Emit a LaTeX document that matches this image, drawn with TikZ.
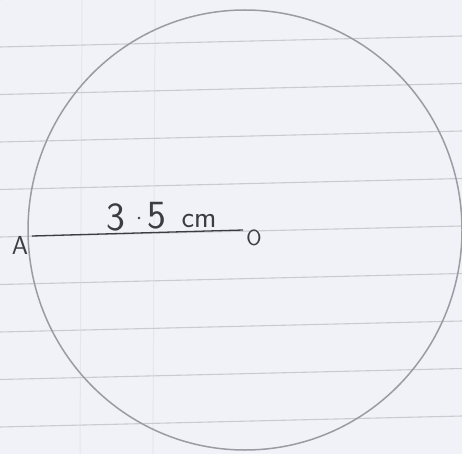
\documentclass[tikz,border=0pt]{standalone}
\usepackage{fontspec}
\begin{document}
\begin{tikzpicture}[x=1pt,y=-1pt,
  paper/.style={fill=paperbg,draw=none},
  rule/.style={draw=rulecol,line width=1.1pt},
  faint/.style={draw=faintcol,line width=1pt},
  circ/.style={draw=circcol,line width=1.5pt},
  ink/.style={draw=inkcol,line width=1.3pt},
  inkdot/.style={circle,fill=inkcol,inner sep=0pt,minimum size=2.6pt},
  hand/.style={text=inkcol,font=\sffamily\fontsize{#1}{#1}\selectfont,inner sep=0pt}]
\definecolor{paperbg}{HTML}{F0F2F7}
\definecolor{rulecol}{HTML}{C9CBD2}
\definecolor{faintcol}{HTML}{E4E6EC}
\definecolor{circcol}{HTML}{9B9CA3}
\definecolor{inkcol}{HTML}{3C3D44}
\path[paper] (0,0) rectangle (462,454);
\useasboundingbox (0,0) rectangle (462,454);
% faint vertical rulings showing through
\draw[faint] (82,0) -- (80,454);
\draw[faint] (155,0) -- (153,454);
% ruled lines
\foreach \k in {-1,0,...,8}{
  \draw[rule] (0,{47+47.5*\k}) -- (462,{36+47.5*\k});
}
% circle
\coordinate (O) at (245,230);
\draw[circ] (O) ellipse [x radius=217, y radius=220];
% radius
\coordinate (Aend) at (32,236);
\coordinate (Oend) at (243,230);
\draw[ink] (Aend) -- (Oend);
\node[hand=26] (A) at (20,245) {A};
\node[hand=22] (Olab) at (254,238) {O};
\node[hand=40] (three) at (116,217) {3};
\node[inkdot] (dot) at (139,218) {};
\node[hand=40] (five) at (157,216) {5};
\node[hand=30] (cm) at (199,221) {cm};
\end{tikzpicture}
\end{document}
